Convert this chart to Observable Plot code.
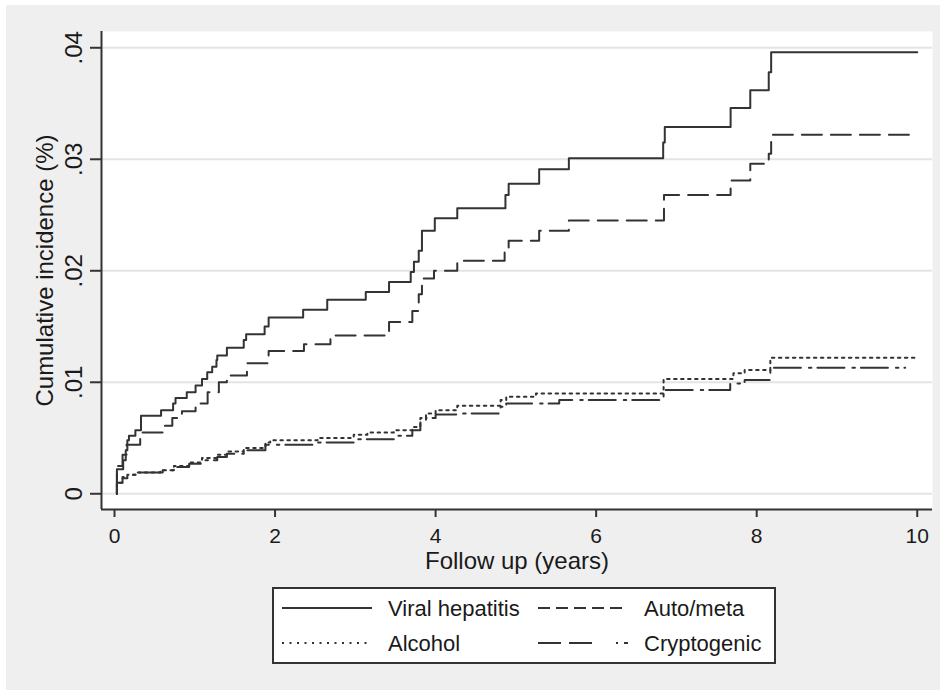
<!DOCTYPE html>
<html>
<head>
<meta charset="utf-8">
<script src="https://cdn.jsdelivr.net/npm/d3@7"></script>
<script src="https://cdn.jsdelivr.net/npm/@observablehq/plot@0.6"></script>
<style>
  html, body { margin: 0; padding: 0; background: #ffffff; }
  #page { position: relative; width: 943px; height: 694px; overflow: hidden; font-family: "Liberation Sans", Arial, sans-serif; }
  #bg { position: absolute; left: 6px; top: 5px; width: 934px; height: 685px; background: #efefef; }
  #chart { position: absolute; left: 0; top: 0; }
  #legend { position: absolute; left: 272px; top: 587px; }
</style>
</head>
<body>
<div id="page">
  <div id="bg"></div>
  <div id="chart"></div>
  <svg id="legend" width="505" height="78"></svg>
</div>
<script>
// ---- data ----
const xTicks = [0, 2, 4, 6, 8, 10];
const yTicks = [0, 0.01, 0.02, 0.03, 0.04];
const xTitle = "Follow up (years)";
const yTitle = "Cumulative incidence (%)";
const seriesNames = ["Viral hepatitis", "Auto/meta", "Alcohol", "Cryptogenic"];

const viralT = [0.03, 0.03, 0.108, 0.14, 0.16, 0.18, 0.26, 0.33, 0.58, 0.73, 0.76, 0.90, 1.01, 1.09, 1.155, 1.217, 1.27, 1.28, 1.40, 1.61, 1.64, 1.87, 1.92, 2.35, 2.65, 3.13, 3.42, 3.69, 3.73, 3.79, 3.83, 3.99, 4.27, 4.87, 4.91, 5.29, 5.66, 6.835, 6.855, 7.675, 7.92, 8.15, 8.18, 10];
const viralY = [0, 0.0022, 0.0030, 0.0039, 0.0048, 0.0052, 0.0057, 0.0070, 0.0075, 0.0081, 0.0086, 0.0091, 0.0097, 0.0103, 0.0109, 0.0114, 0.0120, 0.0124, 0.0131, 0.0138, 0.0143, 0.0150, 0.0158, 0.0165, 0.0174, 0.0181, 0.0190, 0.0199, 0.0208, 0.0218, 0.0236, 0.0247, 0.0256, 0.0268, 0.0278, 0.0291, 0.0301, 0.0315, 0.0329, 0.0346, 0.0362, 0.0378, 0.0396, 0.0396];

const autoT = [0.03, 0.03, 0.10, 0.15, 0.32, 0.60, 0.72, 0.84, 1.01, 1.16, 1.30, 1.40, 1.65, 1.92, 2.36, 2.69, 3.42, 3.71, 3.79, 3.83, 3.98, 4.27, 4.86, 4.91, 5.29, 5.66, 6.845, 7.675, 7.92, 8.15, 8.18, 10];
const autoY = [0, 0.0025, 0.0035, 0.0044, 0.0055, 0.0061, 0.0068, 0.0074, 0.0081, 0.0091, 0.0100, 0.0106, 0.0117, 0.0128, 0.0134, 0.0142, 0.0154, 0.0164, 0.0179, 0.0193, 0.0200, 0.0209, 0.0218, 0.0227, 0.0236, 0.0245, 0.0268, 0.0281, 0.0296, 0.0305, 0.0322, 0.0322];

const alcT = [0.03, 0.03, 0.10, 0.16, 0.28, 0.57, 0.74, 0.93, 1.09, 1.28, 1.40, 1.61, 1.88, 1.94, 2.53, 2.98, 3.15, 3.48, 3.71, 3.81, 3.88, 4.00, 4.27, 4.81, 4.88, 5.25, 6.84, 7.71, 7.85, 8.17, 10];
const alcY = [0, 0.0010, 0.0015, 0.0017, 0.0019, 0.0021, 0.0025, 0.0028, 0.0032, 0.0035, 0.0038, 0.0041, 0.0046, 0.0048, 0.0050, 0.0053, 0.0055, 0.0057, 0.0060, 0.0068, 0.0072, 0.0075, 0.0079, 0.0084, 0.0087, 0.0090, 0.0103, 0.0108, 0.0111, 0.0122, 0.0122];

const cryT = [0.03, 0.03, 0.10, 0.16, 0.28, 0.60, 0.74, 0.93, 1.09, 1.28, 1.40, 1.61, 1.88, 2.53, 2.98, 3.48, 3.71, 3.81, 3.88, 4.00, 4.27, 4.81, 4.88, 5.54, 6.84, 7.67, 7.85, 8.17, 9.85];
const cryY = [0, 0.0010, 0.0014, 0.0017, 0.0019, 0.0021, 0.0024, 0.0027, 0.0030, 0.0033, 0.0036, 0.0039, 0.0044, 0.0046, 0.0049, 0.0052, 0.0057, 0.0064, 0.0068, 0.0071, 0.0072, 0.0078, 0.0081, 0.0084, 0.0093, 0.0099, 0.0102, 0.0113, 0.0113];

const dashes = [null, "20,9", "2.5,4.5", "27,8,2.5,6"];

// ---- build rows ----
const seriesT = [viralT, autoT, alcT, cryT];
const seriesY = [viralY, autoY, alcY, cryY];
const rows = seriesNames.map((name, k) => seriesT[k].map((t, i) => ({series: name, t, y: seriesY[k][i]})));

const xDomain = [-0.162, 10.19];
const yDomain = [-0.00141, 0.04146];
const ink = "#333333";
const font = '"Liberation Sans", Arial, sans-serif';
const yFmt = d => d === 0 ? "0" : d3.format(".2f")(d).replace(/^0/, "");

const chart = Plot.plot({
  width: 943,
  height: 580,
  marginLeft: 101,
  marginRight: 11,
  marginTop: 31,
  marginBottom: 71,
  style: {background: "transparent", fontFamily: font, color: "#1a1a1a"},
  x: {domain: xDomain, axis: null, label: null},
  y: {domain: yDomain, axis: null, label: null},
  marks: [
    Plot.frame({fill: "white", stroke: null}),
    Plot.gridY(yTicks, {stroke: "#e4e4e4", strokeOpacity: 1, strokeWidth: 2}),
    ...rows.map((data, k) => Plot.line(data, {
      x: "t", y: "y", curve: "step-after",
      stroke: ink, strokeWidth: 2, strokeDasharray: dashes[k] ?? undefined
    })),
    Plot.ruleX([xDomain[0]], {stroke: ink, strokeWidth: 2}),
    Plot.ruleY([yDomain[0]], {stroke: ink, strokeWidth: 2}),
    Plot.axisX(xTicks, {label: null, tickSize: 8, tickFormat: () => "", stroke: ink, strokeWidth: 2}),
    Plot.axisY(yTicks, {label: null, tickSize: 11, tickFormat: () => "", stroke: ink, strokeWidth: 2}),
    Plot.text(xTicks, {x: d => d, frameAnchor: "bottom", dy: 27, text: d => String(d), fontSize: 21, fill: "#1a1a1a", lineAnchor: "middle"}),
    Plot.text(yTicks, {y: d => d, frameAnchor: "left", dx: -27.5, text: yFmt, rotate: -90, fontSize: 24, fill: "#1a1a1a", lineAnchor: "middle", textAnchor: "middle"}),
    Plot.text([xTitle], {frameAnchor: "bottom", dy: 51.5, fontSize: 24, fill: "#1a1a1a", lineAnchor: "middle"}),
    Plot.text([yTitle], {frameAnchor: "left", dx: -55.7, rotate: -90, fontSize: 24, fill: "#1a1a1a", lineAnchor: "middle", textAnchor: "middle"})
  ]
});
document.getElementById("chart").appendChild(chart);

// ---- legend (below the plot) ----
const lg = d3.select("#legend");
lg.append("rect").attr("x", 1).attr("y", 1).attr("width", 502).attr("height", 75)
  .attr("fill", "white").attr("stroke", ink).attr("stroke-width", 2);
const legendDash = [null, "12,6", "2,5.5", "23,8,23,24,2,6"];
const pos = [[10, 21], [266, 21], [10, 56], [266, 56]];
seriesNames.forEach((name, k) => {
  const [x0, y0] = pos[k];
  const ln = lg.append("line").attr("x1", x0).attr("x2", x0 + 90).attr("y1", y0).attr("y2", y0)
    .attr("stroke", ink).attr("stroke-width", 2);
  if (legendDash[k]) ln.attr("stroke-dasharray", legendDash[k]);
  lg.append("text").attr("x", x0 + 106).attr("y", y0).attr("dy", "0.35em")
    .attr("font-family", font).attr("font-size", 22).attr("fill", "#1a1a1a").text(name);
});
</script>
</body>
</html>
